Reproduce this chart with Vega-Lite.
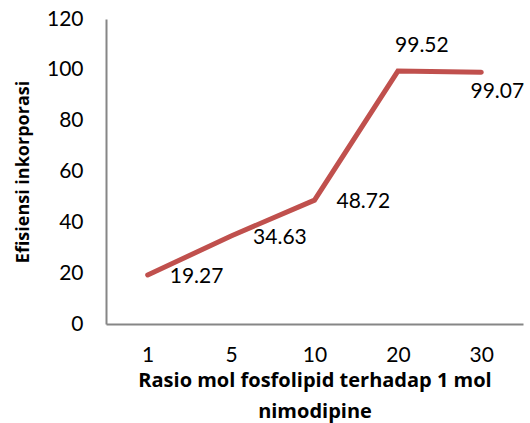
{
  "$schema": "https://vega.github.io/schema/vega-lite/v6.json",
  "autosize": "none",
  "width": 417,
  "height": 305,
  "padding": {"left": 106, "top": 19, "right": 7, "bottom": 99},
  "background": "white",
  "config": {
    "view": {"stroke": null},
    "font": "Lato",
    "axis": {"grid": false, "ticks": false, "domainColor": "#868686", "domainWidth": 2, "labelFont": "Lato", "labelFontSize": 21, "labelColor": "#000000", "titleFont": "Open Sans", "titleFontWeight": "bold", "titleColor": "#000000"}
  },
  "data": {
    "values": [
      {"rasio": "1", "efisiensi": 19.27, "pos": "right"},
      {"rasio": "5", "efisiensi": 34.63, "pos": "right"},
      {"rasio": "10", "efisiensi": 48.72, "pos": "right"},
      {"rasio": "20", "efisiensi": 99.52, "pos": "above"},
      {"rasio": "30", "efisiensi": 99.07, "pos": "below"}
    ]
  },
  "encoding": {
    "x": {
      "field": "rasio", "type": "ordinal", "sort": null,
      "scale": {"type": "point", "padding": 0.5},
      "axis": {"labelAngle": 0, "labelPadding": 20, "title": ["Rasio mol fosfolipid terhadap 1 mol", "nimodipine"], "titleFontSize": 20, "titlePadding": 5, "titleLineHeight": 31}
    },
    "y": {
      "field": "efisiensi", "type": "quantitative",
      "scale": {"domain": [0, 120]},
      "axis": {"values": [0, 20, 40, 60, 80, 100, 120], "labelPadding": 23, "title": "Efisiensi inkorporasi", "titleFontSize": 18, "titlePadding": 14}
    }
  },
  "layer": [
    {"mark": {"type": "line", "color": "#C0504D", "strokeWidth": 5, "strokeCap": "round", "strokeJoin": "miter"}},
    {
      "transform": [{"filter": "datum.pos === 'right'"}],
      "mark": {"type": "text", "align": "left", "baseline": "middle", "dx": 22, "dy": 2, "fontSize": 21, "font": "Lato", "color": "#000000"},
      "encoding": {"text": {"field": "efisiensi", "type": "quantitative", "format": ".2f"}}
    },
    {
      "transform": [{"filter": "datum.pos === 'above'"}],
      "mark": {"type": "text", "align": "center", "baseline": "middle", "dx": 24, "dy": -25, "fontSize": 21, "font": "Lato", "color": "#000000"},
      "encoding": {"text": {"field": "efisiensi", "type": "quantitative", "format": ".2f"}}
    },
    {
      "transform": [{"filter": "datum.pos === 'below'"}],
      "mark": {"type": "text", "align": "center", "baseline": "middle", "dx": 16, "dy": 20, "fontSize": 21, "font": "Lato", "color": "#000000"},
      "encoding": {"text": {"field": "efisiensi", "type": "quantitative", "format": ".2f"}}
    }
  ]
}
